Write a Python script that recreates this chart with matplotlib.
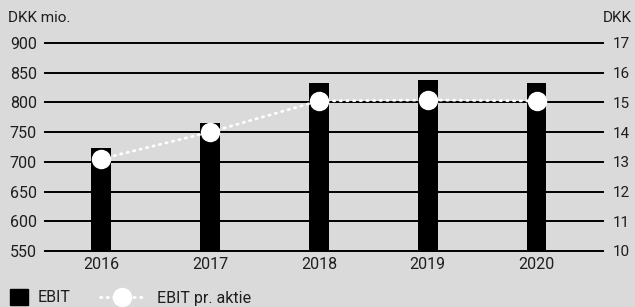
import matplotlib
matplotlib.use("Agg")
import matplotlib.pyplot as plt
from matplotlib.patches import Rectangle
from matplotlib.lines import Line2D

# data
years = ["2016", "2017", "2018", "2019", "2020"]
ebit = [723, 765, 833, 837, 833]
ebit_per_share = [13.1, 14.0, 15.05, 15.08, 15.05]
left_ticks = [550, 600, 650, 700, 750, 800, 850, 900]
right_ticks = [10, 11, 12, 13, 14, 15, 16, 17]

bg = "#dadada"
txt = "#1e1e1e"
plt.rcParams["font.family"] = ["Roboto", "DejaVu Sans"]
plt.rcParams["font.size"] = 11

fig = plt.figure(figsize=(6.35, 3.07), dpi=100, facecolor=bg)
W, H = 635, 307
ax = fig.add_axes([45 / W, 1 - 251 / H, 558 / W, 208 / H])
ax.set_facecolor(bg)

x = list(range(len(years)))
for yv in left_ticks:
    ax.axhline(yv, color="black", lw=1.4, zorder=1, clip_on=False)
ax.bar(x, [v - 550 for v in ebit], bottom=550, width=0.18, color="black", zorder=2)
ax.set_ylim(550, 900)
ax.set_xlim(-0.515, 4.61)
ax.set_yticks(left_ticks)
ax.set_xticks(x)
ax.set_xticklabels(years)
ax.tick_params(axis="y", length=0, pad=6, colors=txt, labelsize=11.5)
ax.tick_params(axis="x", length=0, pad=4, colors=txt, labelsize=11.5)
for s in ax.spines.values():
    s.set_visible(False)

ax2 = ax.twinx()
ax2.plot(x, ebit_per_share, color="white", lw=2.0, linestyle=(0, (0.5, 1.9)),
         dash_capstyle="round", marker="o", markersize=14, markeredgewidth=0,
         zorder=5)
ax2.set_ylim(10, 17)
ax2.set_yticks(right_ticks)
ax2.tick_params(axis="y", length=0, pad=7, colors=txt, labelsize=11)
for s in ax2.spines.values():
    s.set_visible(False)

fig.text(8 / W, 1 - 18 / H, "DKK mio.", ha="left", va="center", color=txt, fontsize=11)
fig.text(632 / W, 1 - 18 / H, "DKK", ha="right", va="center", color=txt, fontsize=11)

# legend drawn by hand at the bottom
fig.add_artist(Rectangle((10 / W, 1 - 305 / H), 18 / W, 16 / H,
                         transform=fig.transFigure, color="black"))
fig.text(38 / W, 1 - 298 / H, "EBIT", ha="left", va="center", color=txt, fontsize=11.5)
fig.add_artist(Line2D([100 / W, 144 / W], [1 - 297 / H, 1 - 297 / H],
                      transform=fig.transFigure, color="white", lw=2.0,
                      linestyle=(0, (0.5, 1.9)), dash_capstyle="round"))
fig.add_artist(Line2D([122 / W], [1 - 297 / H], transform=fig.transFigure,
                      color="white", marker="o", markersize=14, markeredgewidth=0))
fig.text(157 / W, 1 - 298 / H, "EBIT pr. aktie", ha="left", va="center", color=txt, fontsize=11.5)

fig.savefig("out.png", dpi=100, facecolor=bg)
